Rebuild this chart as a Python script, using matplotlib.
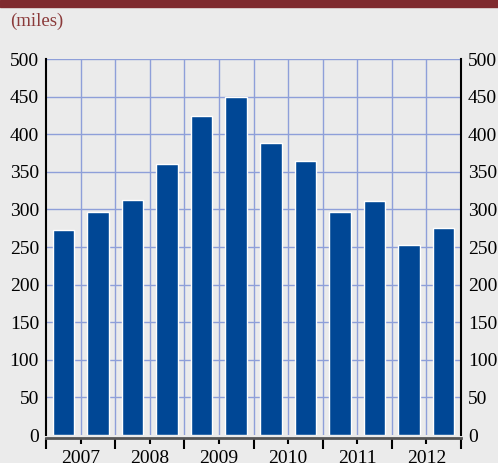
import matplotlib
matplotlib.use("Agg")
import numpy as np
import matplotlib.pyplot as plt

plt.rcParams["font.family"] = ["Liberation Serif", "DejaVu Serif"]

# 半年度数据（每年两根柱）
years = ["2007", "2008", "2009", "2010", "2011", "2012"]
miles = [272, 297, 312, 360, 424, 449, 388, 365, 297, 311, 252, 275]
y_ticks = list(range(0, 501, 50))

BG = "#ebebeb"
BAR = "#004795"
GRID = "#8e9fd9"
RED = "#7f2a2e"

fig = plt.figure(figsize=(4.98, 4.63), dpi=100, facecolor=BG)
# 顶部深红色条
fig.patches.append(plt.Rectangle((0, 1 - 7 / 463), 1, 7 / 463, transform=fig.transFigure,
                                 color=RED, zorder=0))
fig.text(10 / 498, 1 - 21 / 463, "(miles)", color="#8b3a3a", fontsize=13.5, va="center", ha="left")

ax = fig.add_axes([46 / 498, 1 - 435 / 463, 415 / 498, 376 / 463])
ax.set_facecolor(BG)

x = np.arange(len(miles)) + 0.5
ax.bar(x, miles, width=0.62, color=BAR, edgecolor="white", linewidth=1, zorder=3)

ax.set_xlim(0, len(miles))
ax.set_ylim(0, 500)

# 网格：水平每50，竖线在每根柱的边界
for v in y_ticks[1:]:
    ax.axhline(v, color=GRID, linewidth=1, zorder=1)
for b in range(1, len(miles)):
    ax.axvline(b, color=GRID, linewidth=1, zorder=1)

ax.set_yticks(y_ticks)
ax.tick_params(axis="y", length=0, pad=5, labelsize=14, left=False, right=False,
               labelleft=True, labelright=True)

# x 轴：年份边界长刻度，年中短刻度，年份标签居中
ax.set_xticks(range(0, len(miles) + 1, 2))
ax.set_xticklabels([])
ax.set_xticks(np.arange(1, len(miles), 2), labels=years, minor=True)
ax.tick_params(axis="x", which="major", direction="out", length=8, width=1.5, color="black")
ax.tick_params(axis="x", which="minor", direction="out", length=4.5, width=1.5, color="black",
               labelsize=14, pad=4)

ax.spines["top"].set_visible(False)
ax.spines["left"].set_color("black")
ax.spines["left"].set_linewidth(1.5)
ax.spines["right"].set_color("black")
ax.spines["right"].set_linewidth(1.5)
ax.spines["bottom"].set_color("#555555")
ax.spines["bottom"].set_linewidth(2)
ax.spines["bottom"].set_position(("outward", 2))
ax.spines["bottom"].set_zorder(4)

fig.savefig("out.png", dpi=100, facecolor=BG)
